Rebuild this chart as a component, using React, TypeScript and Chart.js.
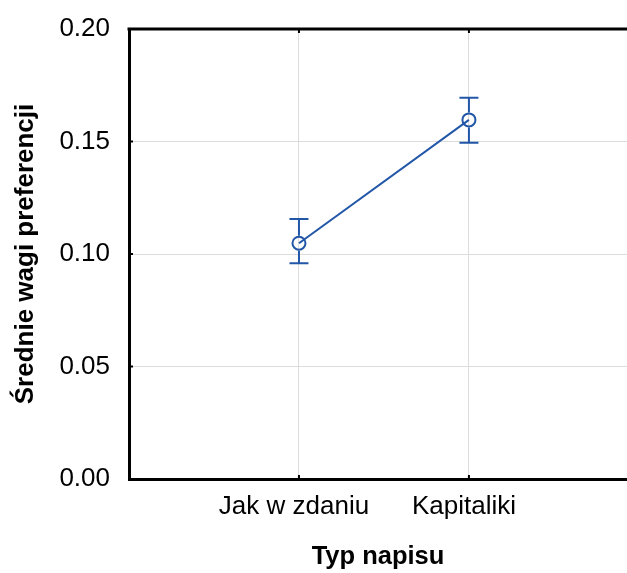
import React, { useEffect, useRef } from "react";
import { Chart, registerables } from "chart.js";

Chart.register(...registerables);

const categories = ["Jak w zdaniu", "Kapitaliki"];
const means = [0.1048, 0.1596];
const upper = [0.1156, 0.1695];
const lower = [0.0959, 0.1495];
const yTicks = [0, 0.05, 0.1, 0.15, 0.2];

const BLUE = "#2257a8";
const FONT = "'Liberation Sans', Arial, sans-serif";

const framePlugin = {
  id: "frameAndBars",
  afterDatasetsDraw(chart: any) {
    const { ctx, chartArea, scales } = chart;
    const xs = scales.x;
    const ys = scales.y;
    ctx.save();
    // error bars
    ctx.strokeStyle = BLUE;
    ctx.lineWidth = 2;
    for (let i = 0; i < means.length; i++) {
      const px = xs.getPixelForValue(i + 1);
      const pu = ys.getPixelForValue(upper[i]);
      const pl = ys.getPixelForValue(lower[i]);
      const pm = ys.getPixelForValue(means[i]);
      ctx.beginPath();
      ctx.moveTo(px, pu);
      ctx.lineTo(px, pm - 7.5);
      ctx.moveTo(px, pm + 7.5);
      ctx.lineTo(px, pl);
      ctx.moveTo(px - 9.5, pu);
      ctx.lineTo(px + 9.5, pu);
      ctx.moveTo(px - 9.5, pl);
      ctx.lineTo(px + 9.5, pl);
      ctx.stroke();
    }
    // top frame line
    ctx.strokeStyle = "#000";
    ctx.lineWidth = 3;
    ctx.beginPath();
    ctx.moveTo(chartArea.left - 1.5, chartArea.top);
    ctx.lineTo(chartArea.right, chartArea.top);
    ctx.stroke();
    // inward ticks
    ctx.lineWidth = 2;
    ctx.beginPath();
    for (const v of yTicks) {
      const py = ys.getPixelForValue(v);
      ctx.moveTo(chartArea.left, py);
      ctx.lineTo(chartArea.left + 4, py);
    }
    for (let i = 0; i < categories.length; i++) {
      const px = xs.getPixelForValue(i + 1);
      ctx.moveTo(px, chartArea.bottom);
      ctx.lineTo(px, chartArea.bottom - 4);
      ctx.moveTo(px, chartArea.top);
      ctx.lineTo(px, chartArea.top + 4);
    }
    ctx.stroke();
    ctx.restore();
  },
};

export default function App() {
  const ref = useRef<HTMLCanvasElement | null>(null);
  useEffect(() => {
    if (!ref.current) return;
    const chart = new Chart(ref.current, {
      type: "line",
      data: {
        datasets: [
          {
            data: means.map((m, i) => ({ x: i + 1, y: m })),
            borderColor: BLUE,
            borderWidth: 2,
            pointRadius: 6.5,
            pointBorderWidth: 2,
            pointBorderColor: BLUE,
            pointBackgroundColor: "rgba(255,255,255,0)",
            showLine: true,
          },
        ],
      },
      plugins: [framePlugin],
      options: {
        responsive: false,
        animation: false,
        layout: { autoPadding: false, padding: { top: 29, left: 0, right: 0, bottom: 0 } },
        plugins: { legend: { display: false }, tooltip: { enabled: false } },
        scales: {
          x: {
            type: "linear",
            min: 0,
            max: 2.93,
            afterBuildTicks: (s: any) => {
              s.ticks = categories.map((_, i) => ({ value: i + 1 }));
            },
            afterFit: (s: any) => {
              s.height = 94;
              s.paddingLeft = 0;
              s.paddingRight = 0;
            },
            ticks: {
              callback: (v: any) => categories[Number(v) - 1] ?? "",
              color: "#000",
              font: { family: FONT, size: 26 },
              padding: 12,
              labelOffset: -5,
              maxRotation: 0,
            },
            grid: { color: "#dcdcdc", lineWidth: 1, drawTicks: false },
            border: { color: "#000", width: 3 },
            title: {
              display: true,
              text: "Typ napisu",
              color: "#000",
              font: { family: FONT, size: 25.5, weight: "bold" },
              padding: { top: 0, bottom: 1 },
            },
          },
          y: {
            min: 0,
            max: 0.2,
            afterBuildTicks: (s: any) => {
              s.ticks = yTicks.map((v) => ({ value: v }));
            },
            afterFit: (s: any) => {
              s.width = 129;
              s.paddingTop = 0;
              s.paddingBottom = 0;
            },
            ticks: {
              callback: (v: any) => Number(v).toFixed(2),
              color: "#000",
              font: { family: FONT, size: 26 },
              padding: 19,
            },
            grid: { color: "#dcdcdc", lineWidth: 1, drawTicks: false },
            border: { color: "#000", width: 3 },
            title: {
              display: true,
              text: "Średnie wagi preferencji",
              color: "#000",
              font: { family: FONT, size: 26, weight: "bold" },
              padding: { top: 10, bottom: 0 },
            },
          },
        },
      },
    } as any);
    return () => chart.destroy();
  }, []);
  return (
    <div style={{ position: "fixed", left: 0, top: 0, width: 627, height: 573, background: "#fff" }}>
      <canvas ref={ref} width={627} height={573} />
    </div>
  );
}
